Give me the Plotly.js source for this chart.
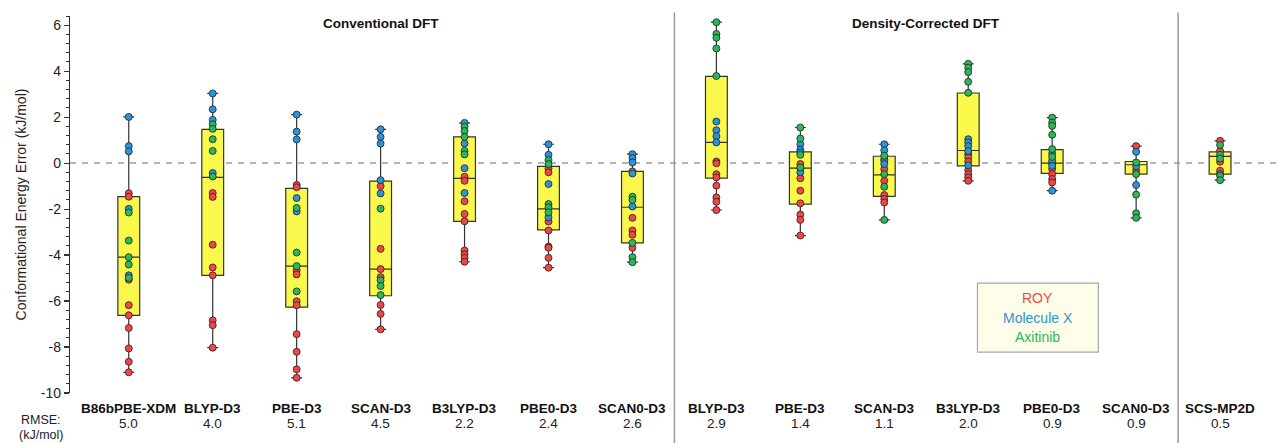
<!DOCTYPE html>
<html>
<head>
<meta charset="utf-8">
<script src="https://cdn.plot.ly/plotly-3.0.1.min.js"></script>
<style>html,body{margin:0;padding:0;background:#fff;}#chart{width:1278px;height:443px;}</style>
</head>
<body>
<div id="chart"></div>
<script>
// ---- data ----
const methods = ['B86bPBE-XDM','BLYP-D3','PBE-D3','SCAN-D3','B3LYP-D3','PBE0-D3','SCAN0-D3',
                 'BLYP-D3','PBE-D3','SCAN-D3','B3LYP-D3','PBE0-D3','SCAN0-D3','SCS-MP2D'];
const rmse = ['5.0','4.0','5.1','4.5','2.2','2.4','2.6','2.9','1.4','1.1','2.0','0.9','0.9','0.5'];

const roy = [
  [-1.31,-1.46,-5.07,-6.18,-6.62,-7.17,-8.06,-8.64,-9.10],
  [-1.30,-1.47,-3.55,-4.54,-4.88,-6.84,-7.05,-8.03],
  [-0.95,-1.05,-4.67,-4.84,-6.01,-6.18,-7.44,-8.21,-8.97,-9.34],
  [-1.00,-3.73,-4.61,-4.96,-6.17,-6.56,-7.23],
  [-0.59,-0.77,-1.66,-2.21,-2.53,-3.80,-3.97,-4.12,-4.29],
  [-0.23,-0.40,-2.54,-2.93,-3.63,-3.68,-4.12,-4.55],
  [-0.36,-2.38,-2.93,-3.12,-3.68],
  [0.07,-0.01,-0.48,-0.62,-0.98,-1.49,-1.68,-2.04],
  [-0.04,-0.22,-0.66,-1.20,-1.75,-2.24,-2.47,-3.15],
  [0.17,-0.26,-0.77,-1.39,-1.56,-1.71],
  [0.39,0.25,0.07,-0.30,-0.48,-0.62,-0.77],
  [-0.01,-0.26,-0.48,-0.69,-0.84],
  [0.74,-0.33],
  [0.97,0.53,0.06,-0.33]
];
const moleculeX = [
  [2.01,0.74,0.51,-1.99,-4.88],
  [3.03,2.34,1.88,-0.43],
  [2.11,1.37,1.03,-1.52,-2.10],
  [1.47,1.14,0.85,-0.74,-1.32],
  [1.75,0.85,-0.22,-1.30],
  [0.82,0.36,-0.91,-2.36],
  [0.39,0.22,0.03,-0.45,-1.89],
  [1.81,1.43,1.17,0.90],
  [0.82,0.58,0.46,-0.40],
  [0.82,0.56,0.10,-0.04],
  [1.04,0.90,0.74,0.53,-0.09],
  [0.42,0.10,-0.12,-1.20],
  [0.49,-0.14,-0.95],
  [-0.48]
];
const axitinib = [
  [-2.15,-3.37,-4.09,-4.41,-4.99],
  [1.69,1.49,1.04,0.53,-0.58],
  [-1.95,-3.89,-4.48,-5.58],
  [-1.98,-5.10,-5.35,-5.74],
  [1.58,1.40,1.14,0.53,0.38],
  [0.13,-0.04,-1.78,-1.92,-2.14],
  [-1.46,-1.60,-3.47,-4.09,-4.31],
  [6.13,5.62,5.45,4.99,3.79],
  [1.55,1.07,0.36,-0.19],
  [0.32,-0.48,-1.03,-2.47],
  [4.32,4.15,3.96,3.54,3.06],
  [1.98,1.76,1.62,1.23,0.61,0.27],
  [0.03,-0.48,-1.37,-2.18,-2.38],
  [0.79,0.36,0.20,-0.55,-0.74]
];
const q3 = [-1.46,1.47,-1.10,-0.78,1.14,-0.14,-0.36,3.77,0.49,0.30,3.05,0.59,0.07,0.49];
const med = [-4.09,-0.62,-4.48,-4.61,-0.66,-1.99,-1.92,0.90,-0.22,-0.51,0.55,0.00,-0.07,0.29];
const q1 = [-6.62,-4.88,-6.26,-5.77,-2.53,-2.90,-3.47,-0.65,-1.78,-1.45,-0.12,-0.45,-0.48,-0.48];

const groups = ['Conventional DFT','Density-Corrected DFT'];
const groupCenters = [3, 9.5];
const separators = [6.5, 12.5];
const legendNames = ['ROY','Molecule X','Axitinib'];
const yTickVals = [-10,-8,-6,-4,-2,0,2,4,6];
const yTickText = ['-10','-8','-6','-4','-2','0','2','4','6'];

// ---- build ----
const FONT = 'Liberation Sans, Arial, Helvetica, sans-serif';
const colors = ['#f04646','#2e93d6','#2bb85a'];
const series = [roy, moleculeX, axitinib];
const pos = methods.map((_, i) => i);
const lowerfence = pos.map(i => Math.min(...roy[i], ...moleculeX[i], ...axitinib[i]));
const upperfence = pos.map(i => Math.max(...roy[i], ...moleculeX[i], ...axitinib[i]));

const traces = [{
  type: 'box', x: pos, q1: q1, median: med, q3: q3,
  lowerfence: lowerfence, upperfence: upperfence,
  boxpoints: false, width: 0.26, whiskerwidth: 0.5,
  fillcolor: '#fbf84c', line: {color: '#333', width: 1.2},
  showlegend: false, hoverinfo: 'skip'
}];
series.forEach((s, k) => {
  const xs = [], ys = [];
  s.forEach((vals, i) => vals.forEach(v => { xs.push(i); ys.push(v); }));
  traces.push({
    type: 'scatter', mode: 'markers', x: xs, y: ys, name: legendNames[k],
    marker: {size: 7, color: colors[k], line: {color: '#222', width: 0.8}},
    showlegend: false, cliponaxis: false
  });
});

const annotations = [];
groups.forEach((g, i) => annotations.push({
  text: '<b>' + g + '</b>', x: groupCenters[i], xref: 'x', y: 0.979, yref: 'paper',
  yanchor: 'middle', showarrow: false, font: {size: 13.5, color: '#111', family: FONT}
}));
methods.forEach((m, i) => {
  annotations.push({text: '<b>' + m + '</b>', x: i, xref: 'x', y: -0.042, yref: 'paper',
    yanchor: 'middle', showarrow: false, font: {size: 13.5, color: '#111', family: FONT}});
  annotations.push({text: rmse[i], x: i, xref: 'x', y: -0.080, yref: 'paper',
    yanchor: 'middle', showarrow: false, font: {size: 13.5, color: '#222', family: FONT}});
});
annotations.push({text: 'RMSE:', x: -0.024, xref: 'paper', y: -0.0716, yref: 'paper',
  xanchor: 'center', yanchor: 'middle', showarrow: false, borderpad: 0,
  font: {size: 12.5, color: '#222', family: FONT}});
annotations.push({text: '(kJ/mol)', x: -0.024, xref: 'paper', y: -0.1114, yref: 'paper',
  xanchor: 'center', yanchor: 'middle', showarrow: false, borderpad: 0,
  font: {size: 12.5, color: '#222', family: FONT}});
// legend text
const legendY = [-5.87, -6.74, -7.57];
legendNames.forEach((n, k) => annotations.push({
  text: n, x: 10.83, xref: 'x', y: legendY[k], yref: 'y', showarrow: false,
  font: {size: 14, color: colors[k], family: FONT}
}));

const shapes = [
  {type: 'line', xref: 'paper', x0: 0, x1: 1, yref: 'y', y0: 0, y1: 0,
   line: {color: '#9a9a9a', width: 1.5, dash: '6px,6px'}, layer: 'below'},
  {type: 'rect', xref: 'x', x0: 10.11, x1: 11.55, yref: 'y', y0: -5.22, y1: -8.22,
   fillcolor: '#fefde9', line: {color: '#a8a8a8', width: 1.2}, layer: 'above'}
];
separators.forEach(s => shapes.push({
  type: 'line', xref: 'x', x0: s, x1: s, yref: 'paper', y0: -0.14, y1: 1.009,
  line: {color: '#999', width: 1.5}
}));

const layout = {
  width: 1278, height: 443,
  margin: {l: 70, r: 0, t: 16, b: 50},
  paper_bgcolor: '#fff', plot_bgcolor: '#fff',
  font: {family: FONT, color: '#222'},
  showlegend: false,
  xaxis: {range: [-0.7, 13.69], showline: false, showgrid: false, zeroline: false,
          showticklabels: false, ticks: '', fixedrange: true},
  yaxis: {range: [-10, 6.4], showline: true, linecolor: '#333', linewidth: 1.2,
          showgrid: false, zeroline: false,
          tickmode: 'array', tickvals: yTickVals, ticktext: yTickText,
          ticks: 'outside', ticklen: 5, tickwidth: 1.2, tickcolor: '#333',
          tickfont: {size: 14, color: '#222', family: FONT},
          minor: {dtick: 0.4, tick0: 0, ticks: 'outside', ticklen: 3, tickwidth: 1, tickcolor: '#333'},
          title: {text: 'Conformational Energy Error (kJ/mol)', standoff: 10,
                  font: {size: 14, color: '#222', family: FONT}}},
  annotations: annotations,
  shapes: shapes
};

Plotly.newPlot('chart', traces, layout, {displayModeBar: false, staticPlot: true});
</script>
</body>
</html>
